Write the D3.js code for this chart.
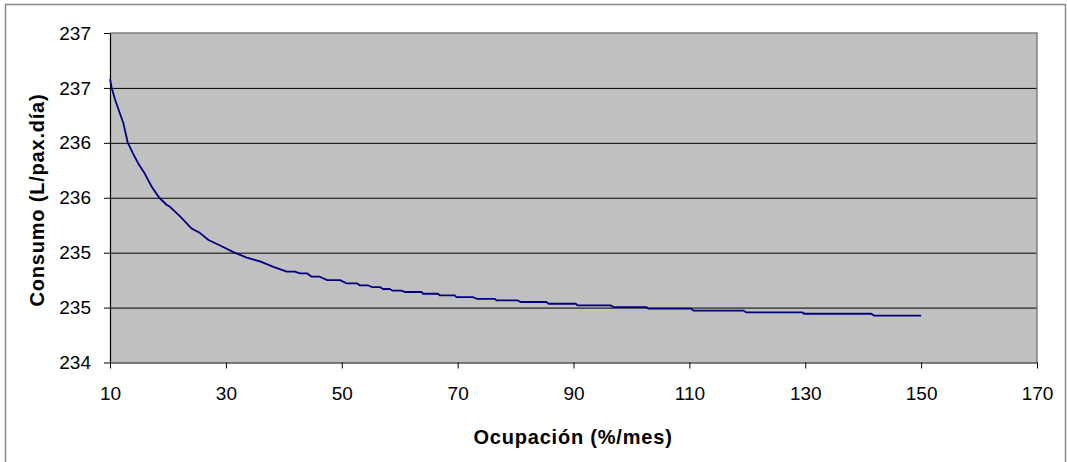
<!DOCTYPE html>
<html>
<head>
<meta charset="utf-8">
<script src="https://cdn.jsdelivr.net/npm/d3@7/dist/d3.min.js"></script>
<style>
  html, body { margin: 0; padding: 0; background: #ffffff; }
  svg { display: block; }
</style>
</head>
<body>
<svg id="chart" width="1067" height="462"></svg>
<script>
// ---- Data ----
const occupancy = [
  10, 10.3, 10.9, 11.7, 12.3, 13.05, 14.0, 14.9, 16.0, 17.2, 18.5, 19.8, 20.3, 22.1, 24.1, 25.5, 27.0, 29.0, 31.3, 33.6, 35.9, 38.2, 39.3,
  40.5, 41.9, 42.8, 44.0, 44.8, 46.2, 47.5, 49.7, 50.8, 52.6, 53.1, 54.5, 55.2, 56.6, 57.1, 58.3, 58.8, 60.3,
  60.9, 63.8, 64.0, 66.6, 66.9, 69.5, 69.8, 72.6, 73.3, 76.4, 76.7, 80.3, 80.9, 85.3, 85.7, 90.4,
  90.7, 96.4, 96.9, 102.6, 102.9, 110.3, 110.7, 119.4, 119.8, 129.5, 129.8, 141.4, 141.9, 150
];
const consumo = [
  236.58, 236.50, 236.39, 236.27, 236.18, 236.005, 235.90, 235.81, 235.72, 235.60, 235.50, 235.434, 235.42, 235.33, 235.22, 235.18, 235.115, 235.065, 235.005, 234.955, 234.92, 234.87, 234.85,
  234.827, 234.827, 234.812, 234.812, 234.781, 234.781, 234.75, 234.75, 234.721, 234.721, 234.703, 234.703, 234.687, 234.687, 234.669, 234.669, 234.654, 234.654,
  234.642, 234.642, 234.626, 234.626, 234.612, 234.612, 234.596, 234.596, 234.58, 234.58, 234.566, 234.566, 234.551, 234.551, 234.535, 234.535,
  234.52, 234.52, 234.505, 234.505, 234.49, 234.49, 234.472, 234.472, 234.457, 234.457, 234.444, 234.444, 234.426, 234.426
];
const xTicks = [10, 30, 50, 70, 90, 110, 130, 150, 170];
const yTicks = [234, 234.5, 235, 235.5, 236, 236.5, 237];
const yTickLabels = ["234", "235", "235", "236", "236", "237", "237"];
const xTitle = "Ocupación (%/mes)";
const yTitle = "Consumo (L/pax.día)";

// ---- Layout ----
const svg = d3.select("#chart");
const pLeft = 110, pRight = 1037, pTop = 33, pBottom = 362.5;
const FONT = "'Liberation Sans', Arial, sans-serif";

const x = d3.scaleLinear().domain([10, 170]).range([pLeft, pRight]);
const y = d3.scaleLinear().domain([234, 237]).range([pBottom, pTop]);

// outer chart border
svg.append("rect")
  .attr("x", 5.5).attr("y", 4.5)
  .attr("width", 1060).attr("height", 470)
  .attr("fill", "#ffffff")
  .attr("stroke", "#8a8a8a")
  .attr("stroke-width", 1.5);

// plot area background
svg.append("rect")
  .attr("x", pLeft).attr("y", pTop)
  .attr("width", pRight - pLeft).attr("height", pBottom - pTop)
  .attr("fill", "#c0c0c0");

// horizontal gridlines
const grid = svg.append("g")
  .attr("transform", `translate(${pLeft},0)`)
  .call(d3.axisLeft(y).tickValues(yTicks.slice(1, -1)).tickSize(-(pRight - pLeft)).tickFormat(""));
grid.select(".domain").remove();
grid.selectAll("line").attr("stroke", "#000000").attr("stroke-width", 1);

// plot area border (top & right, grey)
svg.append("path")
  .attr("d", `M${pLeft},${pTop}H${pRight}V${pBottom}`)
  .attr("fill", "none")
  .attr("stroke", "#808080")
  .attr("stroke-width", 1.5);

// y axis
const yAxis = svg.append("g")
  .attr("transform", `translate(${pLeft},0)`)
  .call(d3.axisLeft(y).tickValues(yTicks).tickSize(6).tickSizeOuter(0).tickPadding(13)
    .tickFormat((d, i) => yTickLabels[i]));
yAxis.select(".domain").attr("stroke", "#000000").attr("stroke-width", 1.2);
yAxis.selectAll("line").attr("stroke", "#000000");
yAxis.selectAll("text").attr("font-family", FONT).attr("font-size", 19).attr("fill", "#000000");

// x axis
const xAxis = svg.append("g")
  .attr("transform", `translate(0,${pBottom})`)
  .call(d3.axisBottom(x).tickValues(xTicks).tickSize(6).tickSizeOuter(0).tickPadding(18)
    .tickFormat(d3.format("d")));
xAxis.select(".domain").attr("stroke", "#000000").attr("stroke-width", 1.2);
xAxis.selectAll("line").attr("stroke", "#000000");
xAxis.selectAll("text").attr("font-family", FONT).attr("font-size", 19).attr("fill", "#000000");

// series line
const pts = occupancy.map((d, i) => [d, consumo[i]]);
svg.append("path")
  .datum(pts)
  .attr("fill", "none")
  .attr("stroke", "#000080")
  .attr("stroke-width", 1.8)
  .attr("stroke-linejoin", "round")
  .attr("d", d3.line().x(d => x(d[0])).y(d => y(d[1])));

// axis titles
svg.append("text")
  .attr("x", 573).attr("y", 444)
  .attr("text-anchor", "middle")
  .attr("font-family", FONT).attr("font-weight", "bold")
  .attr("font-size", 20).attr("letter-spacing", 0.8)
  .text(xTitle);

svg.append("text")
  .attr("transform", "translate(43.5,200) rotate(-90)")
  .attr("text-anchor", "middle")
  .attr("font-family", FONT).attr("font-weight", "bold")
  .attr("font-size", 20).attr("letter-spacing", 0.8)
  .text(yTitle);
</script>
</body>
</html>
